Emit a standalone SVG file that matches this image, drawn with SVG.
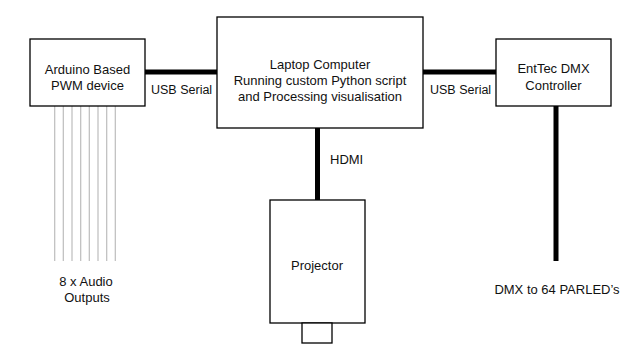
<svg xmlns="http://www.w3.org/2000/svg" width="643" height="361" viewBox="0 0 643 361">
<style>
.box{fill:#fff;stroke:#000;stroke-width:1.3}
.thick{stroke:#000;stroke-width:5;fill:none}
.audio{stroke:#bdbdbd;stroke-width:1.2}
text{font-family:"Liberation Sans",Arial,sans-serif;font-size:13px;fill:#111}
.c{text-anchor:middle}
.usb{font-size:12.5px}
</style>
<rect width="643" height="361" fill="#fff"/>
<g id="connectors">
<line class="thick" x1="145" y1="72" x2="217" y2="72"/>
<line class="thick" x1="423" y1="72" x2="496" y2="72"/>
<line class="thick" x1="317.5" y1="128" x2="317.5" y2="200"/>
<line class="thick" x1="556" y1="106" x2="556" y2="261"/>
<g id="audio-lines">
<line class="audio" x1="54.7" y1="106" x2="54.7" y2="261"/>
<line class="audio" x1="63.3" y1="106" x2="63.3" y2="261"/>
<line class="audio" x1="72" y1="106" x2="72" y2="261"/>
<line class="audio" x1="80.7" y1="106" x2="80.7" y2="261"/>
<line class="audio" x1="89.3" y1="106" x2="89.3" y2="261"/>
<line class="audio" x1="98" y1="106" x2="98" y2="261"/>
<line class="audio" x1="106.7" y1="106" x2="106.7" y2="261"/>
<line class="audio" x1="115.3" y1="106" x2="115.3" y2="261"/>
</g>
<text class="usb" x="151" y="94">USB Serial</text>
<text class="usb" x="430" y="94">USB Serial</text>
<text x="330" y="164">HDMI</text>
<text class="c" x="86" y="286">8 x Audio</text>
<text class="c" x="87" y="302">Outputs</text>
<text class="c" x="557" y="294">DMX to 64 PARLED’s</text>
</g>
<g id="arduino">
<rect class="box" x="30" y="39" width="115" height="67"/>
<text class="c" x="87.5" y="73.5">Arduino Based</text>
<text class="c" x="87.5" y="89.5">PWM device</text>
</g>
<g id="laptop">
<rect class="box" x="217" y="17" width="206" height="111"/>
<text class="c" x="320" y="68.5">Laptop Computer</text>
<text class="c" x="320" y="85">Running custom Python script</text>
<text class="c" x="320" y="101">and Processing visualisation</text>
</g>
<g id="enttec">
<rect class="box" x="496" y="39" width="115" height="67"/>
<text class="c" x="553.5" y="73">EntTec DMX</text>
<text class="c" x="553.5" y="89.5">Controller</text>
</g>
<g id="projector">
<rect class="box" x="270" y="200" width="95" height="123"/>
<rect class="box" x="302" y="323" width="30" height="20"/>
<text class="c" x="317" y="269.5">Projector</text>
</g>
</svg>
